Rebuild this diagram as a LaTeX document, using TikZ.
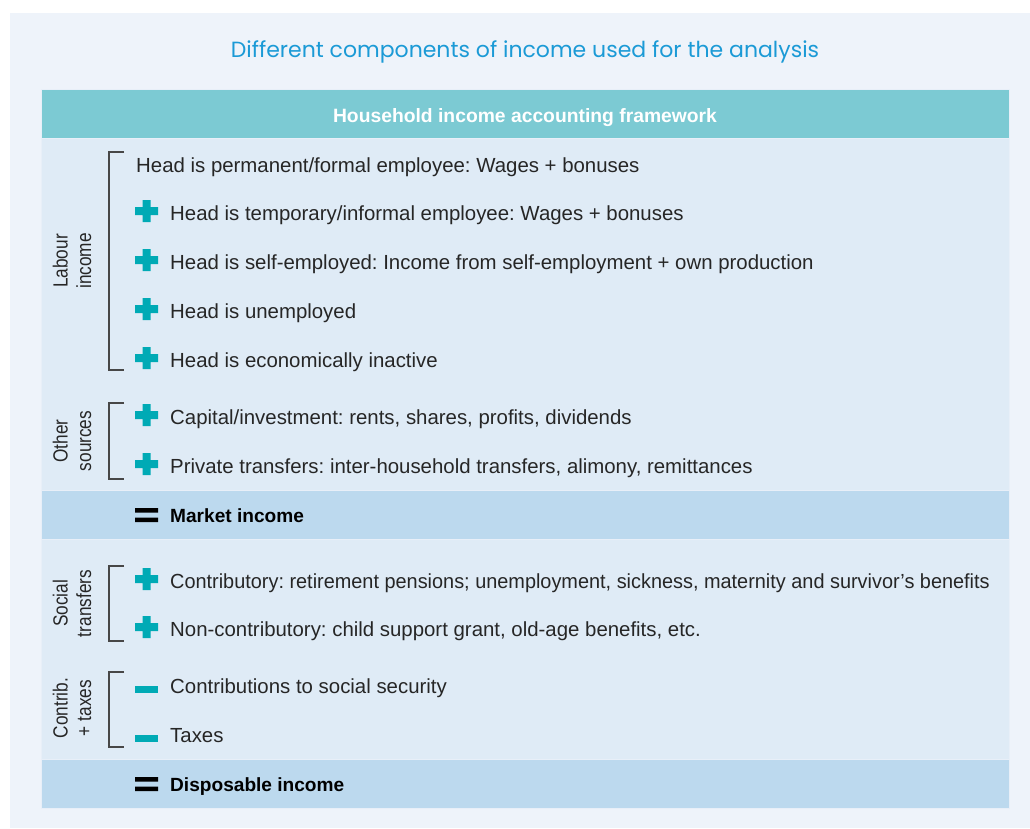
\documentclass[tikz,border=0pt]{standalone}
\usepackage{fontspec}
\setmainfont{Liberation Sans}
\newfontfamily\titlefont{Poppins}
\newfontfamily\condfont[FakeStretch=0.84]{Liberation Sans}
\definecolor{panel}{HTML}{EEF3FA}
\definecolor{body}{HTML}{DFEBF6}
\definecolor{head}{HTML}{7CCAD3}
\definecolor{band}{HTML}{BCD9EE}
\definecolor{accent}{HTML}{00AAB5}
\definecolor{txt}{HTML}{262626}
\definecolor{ttl}{HTML}{1B9AD6}
\definecolor{edge}{HTML}{E8EFF8}
\frenchspacing
\begin{document}
\begin{tikzpicture}[x=1pt,y=-1pt,
  rowtext/.style={font=\fontsize{20.4}{24}\selectfont, text=txt, anchor=base west, inner sep=0pt},
  boldtext/.style={font=\fontsize{19.1}{23}\selectfont\bfseries, text=black, anchor=base west, inner sep=0pt},
  sidelabel/.style={font=\condfont\fontsize{20.5}{23.5}\selectfont, text=txt, align=center, rotate=90, inner sep=0pt},
  bracketline/.style={draw=txt!85, line width=1.1pt},
  cell/.style={draw=edge, line width=0.8pt}]
\useasboundingbox (0,0) rectangle (1030,828);
\fill[white] (0,0) rectangle (1030,828);
\fill[panel] (10,13) rectangle (1030,828);
% title
\node[font=\titlefont\fontsize{22}{26}\selectfont, text=ttl, anchor=base, inner sep=0pt] (title) at (525,57) {Different components of income used for the analysis};
% table cells
\fill[cell, fill=head] (41,89) rectangle (1009,138);
\fill[cell, fill=body] (41,138) rectangle (1009,490);
\fill[cell, fill=band] (41,490) rectangle (1009,539);
\fill[cell, fill=body] (41,539) rectangle (1009,759);
\fill[cell, fill=band] (41,759) rectangle (1009,808);
\node[font=\fontsize{19.3}{23}\selectfont\bfseries, text=white, anchor=base, inner sep=0pt] (header) at (525,122) {Household income accounting framework};
% icons
\newcommand\plusicon[1]{\fill[accent, shift={(146.5,#1-9)}] (-11.5,-4) rectangle (11.5,4) (-4,-11) rectangle (4,11);}
\newcommand\minusicon[1]{\fill[accent] (135,#1-7) rectangle (158,#1);}
\newcommand\equalsicon[1]{\fill[black] (135,#1-14) rectangle (158,#1-9.5) (135,#1-4.5) rectangle (158,#1);}
% rows
\node[rowtext] (r1) at (136,172) {Head is permanent/formal employee: Wages + bonuses};
\plusicon{220}\node[rowtext] (r2) at (170,220) {Head is temporary/informal employee: Wages + bonuses};
\plusicon{269}\node[rowtext] (r3) at (170,269) {Head is self-employed: Income from self-employment + own production};
\plusicon{318}\node[rowtext] (r4) at (170,318) {Head is unemployed};
\plusicon{367}\node[rowtext] (r5) at (170,367) {Head is economically inactive};
\plusicon{424}\node[rowtext] (r6) at (170,424) {Capital/investment: rents, shares, profits, dividends};
\plusicon{473}\node[rowtext] (r7) at (170,473) {Private transfers: inter-household transfers, alimony, remittances};
\equalsicon{522}\node[boldtext] (m1) at (170,522) {Market income};
\plusicon{588}\node[rowtext] (r8) at (170,588) {\scalebox{0.975}[1]{Contributory: retirement pensions; unemployment, sickness, maternity and survivor’s benefits}};
\plusicon{636}\node[rowtext] (r9) at (170,636) {Non-contributory: child support grant, old-age benefits, etc.};
\minusicon{693}\node[rowtext] (r10) at (170,693) {Contributions to social security};
\minusicon{742}\node[rowtext] (r11) at (170,742) {Taxes};
\equalsicon{791}\node[boldtext] (m2) at (170,791) {Disposable income};
% brackets
\draw[bracketline] (124,152) -- (109,152) -- (109,370) -- (124,370);
\draw[bracketline] (124,403) -- (109,403) -- (109,479) -- (124,479);
\draw[bracketline] (124,566) -- (109,566) -- (109,641) -- (124,641);
\draw[bracketline] (124,672) -- (109,672) -- (109,747) -- (124,747);
% side labels
\node[sidelabel] (l1) at (72,261) {Labour\\income};
\node[sidelabel] (l2) at (72,441) {Other\\sources};
\node[sidelabel] (l3) at (72,603.5) {Social\\transfers};
\node[sidelabel] (l4) at (72,708) {Contrib.\\+ taxes};
\end{tikzpicture}
\end{document}
